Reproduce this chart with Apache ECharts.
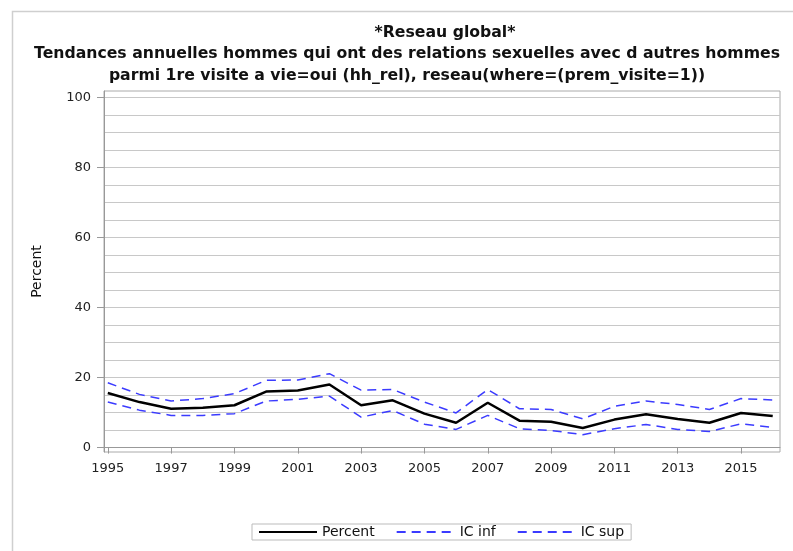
<!DOCTYPE html>
<html>
<head>
<meta charset="utf-8">
<script src="https://cdn.jsdelivr.net/npm/echarts@6/dist/echarts.min.js"></script>
<style>html,body{margin:0;padding:0;background:#fff}#c{width:793px;height:551px}</style>
</head>
<body>
<div id="c"></div>
<script>
const years = [1995,1996,1997,1998,1999,2000,2001,2002,2003,2004,2005,2006,2007,2008,2009,2010,2011,2012,2013,2014,2015,2016];
const percent = [15.6,13.0,11.1,11.4,12.1,16.0,16.3,18.0,12.1,13.5,9.7,7.1,12.8,7.7,7.4,5.6,8.0,9.5,8.2,7.1,9.9,9.0];
const icInf = [13.0,10.7,9.2,9.2,9.7,13.3,13.8,14.7,8.7,10.6,6.7,5.2,9.2,5.4,4.9,3.7,5.4,6.6,5.2,4.6,6.8,5.8];
const icSup = [18.5,15.2,13.3,14.0,15.4,19.2,19.3,21.1,16.4,16.6,13.0,9.9,16.6,11.1,10.9,8.2,11.8,13.3,12.3,10.9,14.0,13.6];
const xTickLabels = [1995,1997,1999,2001,2003,2005,2007,2009,2011,2013,2015];
const yTickLabels = [0,20,40,60,80,100];
const yGridValues = [0,5,10,15,20,25,30,35,40,45,50,55,60,65,70,75,80,85,90,95,100];

const pair = arr => years.map((y, i) => [y, arr[i]]);
const FONT = 'DejaVu Sans';
const chart = echarts.init(document.getElementById('c'), null, {renderer: 'canvas'});
const blue = '#3b3bff';
chart.setOption({
  animation: false,
  graphic: [{
    type: 'rect', left: 10, top: 9, shape: {width: 800, height: 560},
    style: {fill: 'none', stroke: '#cfcfcf', lineWidth: 1.5}
  }],
  title: [{
    text: '*Reseau global*',
    left: 440, top: 20, textAlign: 'center',
    textStyle: {fontFamily: FONT, fontSize: 15.7, fontWeight: 'bold', color: '#111'}
  }, {
    text: 'Tendances annuelles hommes qui ont des relations sexuelles avec d autres hommes\nparmi 1re visite a vie=oui (hh_rel), reseau(where=(prem_visite=1))',
    left: 402, top: 38, textAlign: 'center',
    textStyle: {fontFamily: FONT, fontSize: 15.7, fontWeight: 'bold', color: '#111', lineHeight: 22}
  }],
  legend: {
    left: 252, top: 524,
    padding: [1, 7, 1, 6],
    borderColor: '#bbb', borderWidth: 1,
    itemWidth: 58, itemHeight: 10, itemGap: 21,
    itemStyle: {opacity: 0},
    textStyle: {fontFamily: FONT, fontSize: 14, color: '#111'},
    data: ['Percent', 'IC inf', 'IC sup']
  },
  grid: {
    left: 104, right: 13, top: 91, bottom: 99,
    show: true, borderColor: '#aaa', borderWidth: 1, backgroundColor: 'transparent'
  },
  xAxis: {
    type: 'value', min: 1994.88, max: 2016.23,
    axisLine: {show: true, lineStyle: {color: '#999', width: 1}},
    axisTick: {show: true, customValues: xTickLabels, length: 6, lineStyle: {color: '#999'}},
    axisLabel: {customValues: xTickLabels, fontFamily: FONT, fontSize: 13, color: '#222', margin: 10, formatter: v => String(v)},
    splitLine: {show: false}
  },
  yAxis: [{
    type: 'value', min: -1.25, max: 101.8,
    name: 'Percent', nameLocation: 'middle', nameGap: 60, nameRotate: 90,
    nameTextStyle: {fontFamily: FONT, fontSize: 14, color: '#111'},
    axisLine: {show: true, lineStyle: {color: '#999', width: 1}},
    axisTick: {show: false, customValues: yGridValues},
    axisLabel: {customValues: yTickLabels, fontFamily: FONT, fontSize: 13, color: '#222', margin: 13},
    splitLine: {show: true, lineStyle: {color: '#c8c8c8', width: 1}}
  }, {
    type: 'value', min: -1.25, max: 101.8, position: 'left',
    axisLine: {show: false},
    axisTick: {show: true, customValues: yTickLabels, length: 7, lineStyle: {color: '#999'}},
    axisLabel: {show: false},
    splitLine: {show: false}
  }],
  series: [{
    name: 'Percent', type: 'line', data: pair(percent), symbol: 'none',
    lineStyle: {color: '#000', width: 2.5}, itemStyle: {color: '#000'}, z: 5
  }, {
    name: 'IC inf', type: 'line', data: pair(icInf), symbol: 'none',
    lineStyle: {color: blue, width: 1.5, type: [9, 6]}, itemStyle: {color: blue}
  }, {
    name: 'IC sup', type: 'line', data: pair(icSup), symbol: 'none',
    lineStyle: {color: blue, width: 1.5, type: [9, 6]}, itemStyle: {color: blue}
  }]
});
</script>
</body>
</html>
